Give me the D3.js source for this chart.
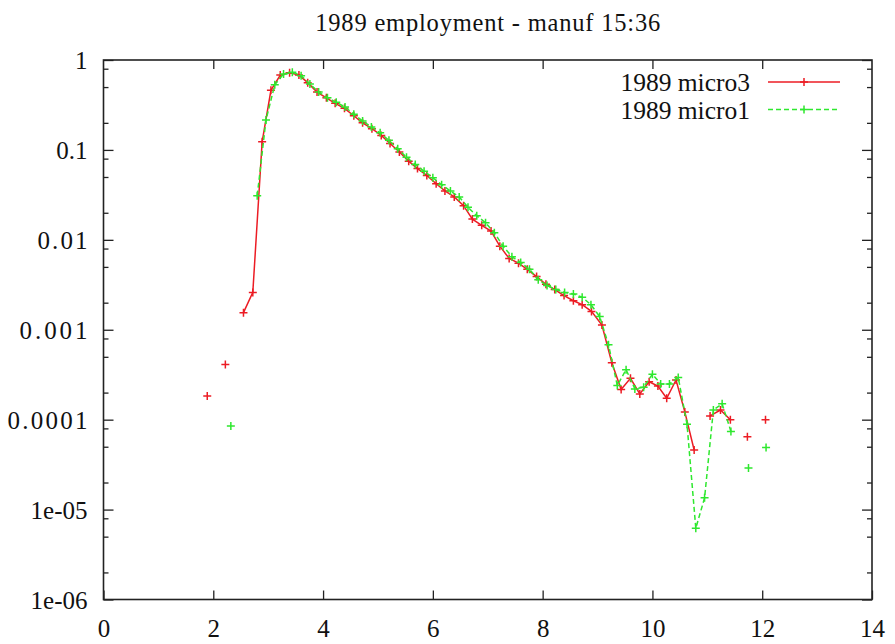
<!DOCTYPE html>
<html>
<head>
<meta charset="utf-8">
<script src="https://cdn.jsdelivr.net/npm/d3@7/dist/d3.min.js"></script>
<style>
html,body{margin:0;padding:0;background:#fff;}
svg{display:block;}
</style>
</head>
<body>
<svg id="chart" width="895" height="644"></svg>
<script>
const titleText = "1989 employment - manuf 15:36";
const seriesNames = ["1989 micro3", "1989 micro1"];

const xTicks = [0, 2, 4, 6, 8, 10, 12, 14];
const yTicks = [1e-6, 1e-5, 1e-4, 1e-3, 1e-2, 1e-1, 1];
const yTickLabels = ["1e-06", "1e-05", "0.0001", "0.001", "0.01", "0.1", "1"];

// 1989 micro3 (red)
const micro3X = [1.89, 2.05, 2.22, 2.39, 2.55, 2.72, 2.89, 3.05, 3.22, 3.39, 3.56, 3.72, 3.89, 4.06, 4.22,
  4.39, 4.56, 4.72, 4.89, 5.06, 5.22, 5.39, 5.56, 5.72, 5.89, 6.06, 6.22, 6.39, 6.56, 6.72,
  6.89, 7.06, 7.22, 7.39, 7.56, 7.72, 7.89, 8.06, 8.22, 8.39, 8.56, 8.72, 8.89, 9.08, 9.26,
  9.43, 9.60, 9.77, 9.94, 10.10, 10.26, 10.43, 10.59, 10.76, 10.90, 11.05, 11.24, 11.42, 11.57, 11.73,
  11.90, 12.06];
const micro3Y = [1.83e-4, null, 4.1e-4, null, 1.55e-3, 2.6e-3, 0.123, 0.46, 0.68, 0.72, 0.68, 0.56, 0.44, 0.38, 0.33,
  0.29, 0.24, 0.20, 0.172, 0.145, 0.118, 0.095, 0.075, 0.062, 0.052, 0.042, 0.035, 0.030, 0.024, 0.017,
  0.0145, 0.0125, 0.0085, 0.0062, 0.0055, 0.0047, 0.0039, 0.0032, 0.0028, 0.0024, 0.0021, 0.0019, 0.0016, 1.13e-3, 4.3e-4,
  2.17e-4, 2.88e-4, 1.93e-4, 2.64e-4, 2.37e-4, 1.73e-4, 2.76e-4, 1.22e-4, 4.6e-5, null, 1.1e-4, 1.28e-4, 1.0e-4, null, 6.45e-5,
  null, 1.0e-4];

// 1989 micro1 (green)
const micro1X = [2.32, 2.48, 2.64, 2.80, 2.96, 3.12, 3.28, 3.44, 3.60, 3.76, 3.92, 4.08, 4.24, 4.40, 4.56,
  4.72, 4.88, 5.04, 5.20, 5.36, 5.52, 5.68, 5.84, 6.00, 6.16, 6.32, 6.48, 6.64, 6.80, 6.96,
  7.12, 7.28, 7.44, 7.60, 7.76, 7.92, 8.08, 8.24, 8.40, 8.56, 8.72, 8.88, 9.04, 9.20, 9.36,
  9.52, 9.68, 9.84, 10.00, 10.15, 10.31, 10.47, 10.63, 10.79, 10.95, 11.11, 11.27, 11.43, 11.59, 11.75,
  11.91, 12.07];
const micro1Y = [8.5e-5, null, null, 0.031, 0.215, 0.53, 0.70, 0.73, 0.67, 0.54, 0.44, 0.38, 0.34, 0.30, 0.25,
  0.21, 0.18, 0.155, 0.128, 0.103, 0.083, 0.069, 0.058, 0.049, 0.041, 0.035, 0.030, 0.023, 0.0185, 0.0155,
  0.012, 0.0085, 0.0065, 0.0056, 0.0047, 0.0036, 0.0031, 0.0028, 0.0026, 0.0025, 0.0023, 0.0019, 0.0014, 6.8e-4, 2.4e-4,
  3.6e-4, 2.2e-4, 2.3e-4, 3.2e-4, 2.5e-4, 2.5e-4, 2.95e-4, 8.9e-5, 6.2e-6, 1.35e-5, 1.28e-4, 1.5e-4, 7.4e-5, null, 2.9e-5,
  null, 4.9e-5];

const minorMultipliers = [2, 5, 8];

const FONT = "'Liberation Serif', Tinos, 'Times New Roman', 'Nimbus Roman', 'DejaVu Serif', serif";

const svg = d3.select("#chart");
const L = 103.5, R = 872, T = 60, B = 599.5;

const x = d3.scaleLinear().domain([0, 14]).range([L, R]);
const y = d3.scaleLog().domain([1e-6, 1]).range([B, T]);

const yMinor = [];
yTicks.slice(0, -1).forEach(d => minorMultipliers.forEach(m => yMinor.push(d * m)));

const axisColor = "#222";

// title
svg.append("text").attr("x", (L + R) / 2).attr("y", 31)
  .attr("text-anchor", "middle").style("font-family", FONT).style("font-size", "24.5px")
  .attr("textLength", 345).attr("lengthAdjust", "spacing")
  .attr("fill", "#111").text(titleText);

function styleAxis(g) {
  g.select(".domain").remove();
  g.attr("font-family", null);
  g.selectAll("line").attr("stroke", axisColor).attr("stroke-width", 1.3);
}

const gx = svg.append("g").attr("transform", `translate(0,${B})`)
  .call(d3.axisBottom(x).tickValues(xTicks).tickSizeInner(-9).tickSizeOuter(0).tickPadding(0));
styleAxis(gx);
gx.selectAll("text").attr("dy", null).attr("y", 37)
  .style("font-family", FONT).style("font-size", "25px").attr("fill", "#111");

const gxTop = svg.append("g").attr("transform", `translate(0,${T})`)
  .call(d3.axisTop(x).tickValues(xTicks.slice(1, -1)).tickSizeInner(-9).tickSizeOuter(0).tickFormat(""));
styleAxis(gxTop);

const gy = svg.append("g").attr("transform", `translate(${L},0)`)
  .call(d3.axisLeft(y).tickValues(yTicks).tickSizeInner(-10).tickSizeOuter(0).tickPadding(0)
    .tickFormat((d, i) => yTickLabels[i]));
styleAxis(gy);
gy.selectAll("text").attr("dy", null).attr("x", -16).attr("y", 8.5)
  .style("font-family", FONT).style("font-size", "25px").attr("fill", "#111");
// the reference's labels with several zeros after the point run wider
gy.selectAll("text").each(function (d, i) {
  const t = d3.select(this), label = yTickLabels[i];
  if (label === "0.0001") t.attr("textLength", 80).attr("lengthAdjust", "spacing");
  if (label === "0.001") t.attr("textLength", 68).attr("lengthAdjust", "spacing");
  if (label === "0.01") t.attr("textLength", 50).attr("lengthAdjust", "spacing");
});

const gyMinor = svg.append("g").attr("transform", `translate(${L},0)`)
  .call(d3.axisLeft(y).tickValues(yMinor).tickSizeInner(-5).tickSizeOuter(0).tickFormat(""));
styleAxis(gyMinor);

const gyR = svg.append("g").attr("transform", `translate(${R},0)`)
  .call(d3.axisRight(y).tickValues(yTicks).tickSizeInner(-10).tickSizeOuter(0).tickFormat(""));
styleAxis(gyR);
const gyRMinor = svg.append("g").attr("transform", `translate(${R},0)`)
  .call(d3.axisRight(y).tickValues(yMinor).tickSizeInner(-5).tickSizeOuter(0).tickFormat(""));
styleAxis(gyRMinor);

svg.append("rect").attr("x", L).attr("y", T).attr("width", R - L).attr("height", B - T)
  .attr("fill", "none").attr("stroke", axisColor).attr("stroke-width", 1.6);

const series = [
  { name: seriesNames[0], xs: micro3X, ys: micro3Y, color: "#ec1c24", dash: null, legendY: 82 },
  { name: seriesNames[1], xs: micro1X, ys: micro1Y, color: "#2ee82e", dash: "5,3", legendY: 109.5 }
];

const line = d3.line()
  .defined(d => d.v !== null)
  .x(d => x(d.x)).y(d => y(d.v));

function plus(g, cx, cy, color) {
  const s = 4;
  g.append("path").attr("d", `M${cx - s},${cy}H${cx + s}M${cx},${cy - s}V${cy + s}`)
    .attr("stroke", color).attr("stroke-width", 1.5).attr("fill", "none");
}

series.forEach(s => {
  const pts = s.xs.map((xv, i) => ({ x: xv, v: s.ys[i] }));
  const g = svg.append("g");
  g.append("path").datum(pts).attr("d", line)
    .attr("fill", "none").attr("stroke", s.color).attr("stroke-width", 1.5)
    .attr("stroke-dasharray", s.dash);
  pts.filter(d => d.v !== null).forEach(d => plus(g, x(d.x), y(d.v), s.color));

  const lg = svg.append("g");
  lg.append("text").attr("x", 750).attr("y", s.legendY + 9).attr("text-anchor", "end")
    .style("font-family", FONT).style("font-size", "25.5px").attr("fill", "#111").text(s.name);
  lg.append("line").attr("x1", 768).attr("x2", 840).attr("y1", s.legendY).attr("y2", s.legendY)
    .attr("stroke", s.color).attr("stroke-width", 1.5).attr("stroke-dasharray", s.dash);
  plus(lg, 804, s.legendY, s.color);
});
</script>
</body>
</html>
